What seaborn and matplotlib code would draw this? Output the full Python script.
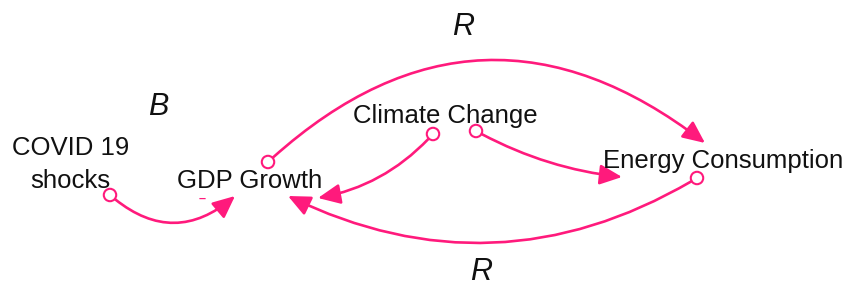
import numpy as np
import pandas as pd
import matplotlib
matplotlib.use('Agg')
import matplotlib.pyplot as plt
import seaborn as sns
from matplotlib.patches import FancyArrowPatch, ArrowStyle

# variables of the causal loop diagram (label, x, baseline y) in pixel coords
var_lines = ['COVID 19', 'shocks', 'GDP Growth', 'Climate Change', 'Energy Consumption']
var_x = [71, 70, 250, 445, 723]
var_y = [155, 188, 188, 123, 168]

# causal links: tail (circle) -> head (arrow), curvature
link_from = ['COVID 19 shocks', 'GDP Growth', 'Climate Change', 'Climate Change', 'Energy Consumption']
link_to = ['GDP Growth', 'Energy Consumption', 'GDP Growth', 'Energy Consumption', 'GDP Growth']
tail_x = [110, 268, 433, 476, 697]
tail_y = [195, 162, 134, 131, 178]
head_x = [235, 705, 318, 622, 288]
head_y = [196, 143, 198, 177, 196]
link_rad = [0.43, -0.42, -0.17, 0.10, -0.27]

# loop markers
loop_labels = ['R', 'B', 'R']
loop_x = [463, 158, 481]
loop_y = [35, 115, 280]

PINK = '#FF1A7C'

sns.set_style('white')
plt.rcParams['font.family'] = ['Liberation Sans', 'DejaVu Sans']

fig = plt.figure(figsize=(8.6, 2.88), dpi=100)
ax = fig.add_axes([0, 0, 1, 1])

for x0, y0, x1, y1, r in zip(tail_x, tail_y, head_x, head_y, link_rad):
    arr = FancyArrowPatch((x0, y0), (x1, y1),
                          connectionstyle=f'arc3,rad={r}',
                          arrowstyle=ArrowStyle('-|>', head_length=0.75, head_width=0.34),
                          mutation_scale=18, color=PINK, lw=1.9,
                          shrinkA=4.8, shrinkB=0, zorder=2)
    ax.add_patch(arr)

tails = pd.DataFrame({'x': tail_x, 'y': tail_y})
sns.scatterplot(data=tails, x='x', y='y', ax=ax, s=80, marker='o',
                facecolor='none', edgecolor=PINK, linewidth=1.5, zorder=3)
ax.set_xlim(0, 860)
ax.set_ylim(288, 0)
ax.axis('off')

for t, x, y in zip(var_lines, var_x, var_y):
    ax.text(x, y, t, ha='center', va='baseline', fontsize=18.5, color='#111111', zorder=4)

for t, x, y in zip(loop_labels, loop_x, loop_y):
    ax.text(x, y, t, ha='center', va='baseline', fontsize=22, style='italic',
            color='#111111', zorder=4)

# polarity sign on the COVID link
ax.text(202, 199, '\u2013', ha='center', va='center', fontsize=9, color=PINK,
        fontweight='bold', zorder=4)

fig.savefig('out.png', dpi=100)
